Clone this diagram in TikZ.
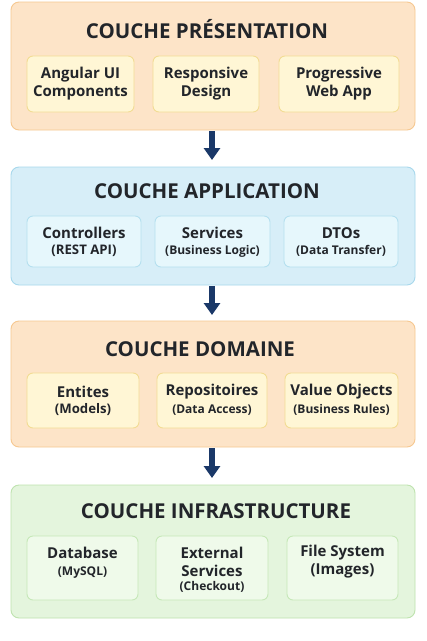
\documentclass[tikz,border=0pt]{standalone}
\usepackage{fontspec}
\setmainfont{Open Sans}
\usetikzlibrary{arrows.meta}
\definecolor{peachF}{HTML}{FDE4C8}
\definecolor{peachD}{HTML}{F6C891}
\definecolor{yelF}{HTML}{FFF6D5}
\definecolor{yelD}{HTML}{F2DC94}
\definecolor{bluF}{HTML}{D7EEF8}
\definecolor{bluD}{HTML}{A8D8EC}
\definecolor{bsubF}{HTML}{E6F7FC}
\definecolor{bsubD}{HTML}{B5E0EF}
\definecolor{grnF}{HTML}{E4F5DD}
\definecolor{grnD}{HTML}{BFE3AF}
\definecolor{gsubF}{HTML}{EFFAEA}
\definecolor{gsubD}{HTML}{C6E8B8}
\definecolor{txt}{HTML}{22252A}
\definecolor{navy}{HTML}{1A3868}
\tikzset{
  layer/.style={draw=#1, line width=0.9pt, rounded corners=8pt},
  subbox/.style={draw=#1, line width=0.9pt, rounded corners=6pt},
  title/.style={font=\fontsize{20.5}{22}\selectfont\bfseries, text=txt, inner sep=0pt},
  main/.style={font=\fontsize{15}{18}\selectfont\bfseries, text=txt, inner sep=0pt, align=center},
  second/.style={font=\fontsize{13.2}{14}\selectfont\bfseries, text=txt, inner sep=0pt, align=center},
  small/.style={font=\fontsize{12}{13}\selectfont\bfseries, text=txt, inner sep=0pt, align=center},
  flow/.style={draw=navy, line width=5.5pt, -{Triangle[width=16pt,length=12pt]}}
}
\begin{document}
\begin{tikzpicture}[x=1pt,y=-1pt]
\useasboundingbox (0,0) rectangle (427,641);
\fill[white] (0,0) rectangle (427,641);
% Layer 1
\draw[layer=peachD, fill=peachF] (11,2) rectangle (415,130);
\node[title] (t1) at (207,29) {COUCHE PRÉSENTATION};
\draw[subbox=yelD, fill=yelF] (27,56) rectangle (134,112);
\draw[subbox=yelD, fill=yelF] (153,56) rectangle (259,112);
\draw[subbox=yelD, fill=yelF] (279,56) rectangle (399,112);
\node[main] (a1) at (80.5,84) {Angular UI\\Components};
\node[main] (a2) at (206,84) {Responsive\\Design};
\node[main] (a3) at (339,84) {Progressive\\Web App};
% Layer 2
\draw[layer=bluD, fill=bluF] (11,167) rectangle (415,285);
\node[title] (t2) at (207,191) {COUCHE APPLICATION};
\draw[subbox=bsubD, fill=bsubF] (27,216) rectangle (141,267);
\draw[subbox=bsubD, fill=bsubF] (155,216) rectangle (270,267);
\draw[subbox=bsubD, fill=bsubF] (284,216) rectangle (398,267);
\node[main] (b1) at (84,233) {Controllers};
\node[second] (b1s) at (84,251) {(REST API)};
\node[main] (b2) at (212.5,233) {Services};
\node[small] (b2s) at (212.5,251) {(Business Logic)};
\node[main] (b3) at (341,233) {DTOs};
\node[small] (b3s) at (341,251) {(Data Transfer)};
% Layer 3
\draw[layer=peachD, fill=peachF] (11,321) rectangle (415,447);
\node[title] (t3) at (200,349) {COUCHE DOMAINE};
\draw[subbox=yelD, fill=yelF] (27,373) rectangle (139,428);
\draw[subbox=yelD, fill=yelF] (157,373) rectangle (267,428);
\draw[subbox=yelD, fill=yelF] (285,373) rectangle (398,428);
\node[main] (c1) at (83,392) {Entites};
\node[second] (c1s) at (83,410) {(Models)};
\node[main] (c2) at (212,392) {Repositoires};
\node[small] (c2s) at (212,410) {(Data Access)};
\node[main] (c3) at (341.5,392) {Value Objects};
\node[small] (c3s) at (341.5,410) {(Business Rules)};
% Layer 4
\draw[layer=grnD, fill=grnF] (11,485) rectangle (415,618);
\node[title] (t4) at (216,511) {COUCHE INFRASTRUCTURE};
\draw[subbox=gsubD, fill=gsubF] (27,536) rectangle (138,600);
\draw[subbox=gsubD, fill=gsubF] (156,536) rectangle (268,600);
\draw[subbox=gsubD, fill=gsubF] (287,536) rectangle (398,600);
\node[main] (d1) at (82.5,553) {Database};
\node[small] (d1s) at (82.5,573) {(MySQL)};
\node[main] (d2) at (212,561.5) {External\\Services};
\node[small] (d2s) at (212,587) {(Checkout)};
\node[main] (d3) at (342.5,561.5) {File System\\(Images)};
% Arrows
\coordinate (s1) at (212,131); \coordinate (e1) at (212,160);
\coordinate (s2) at (212,286); \coordinate (e2) at (212,315);
\coordinate (s3) at (212,448); \coordinate (e3) at (212,478);
\draw[flow] (s1) -- (e1);
\draw[flow] (s2) -- (e2);
\draw[flow] (s3) -- (e3);
\end{tikzpicture}
\end{document}
